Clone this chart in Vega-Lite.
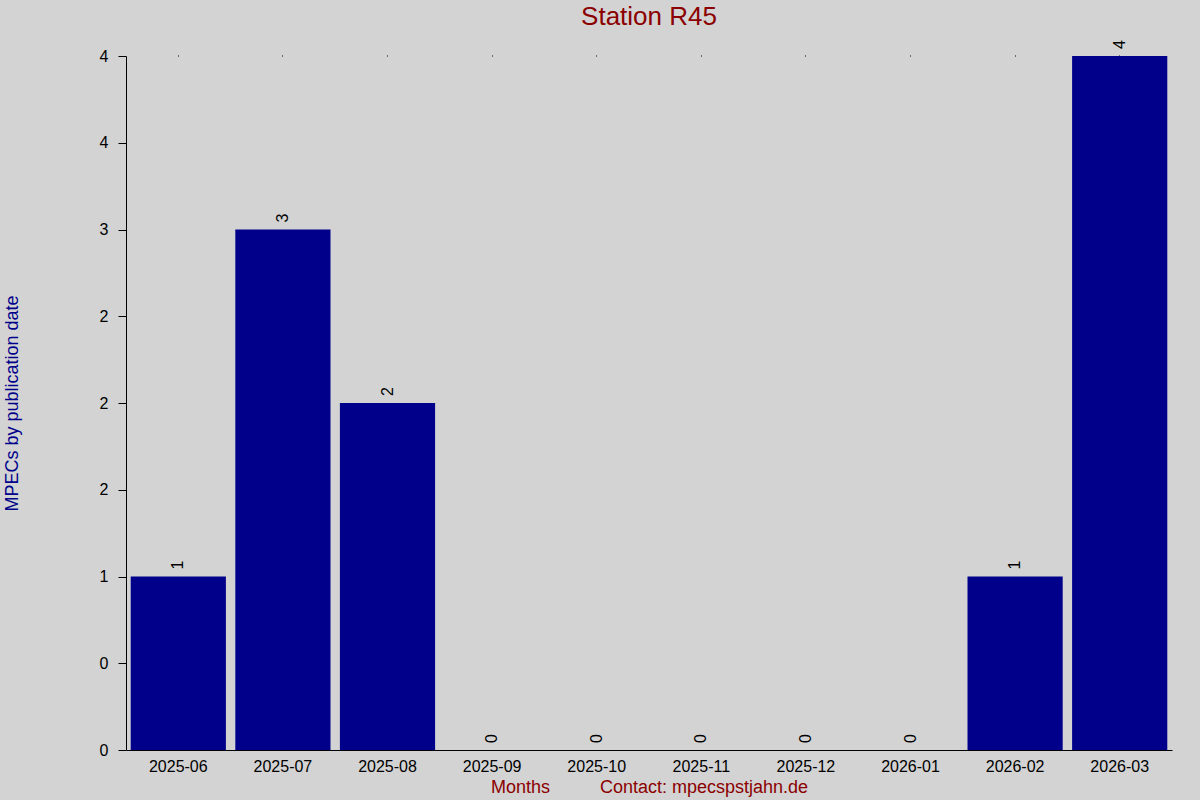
{
  "$schema": "https://vega.github.io/schema/vega-lite/v6.json",
  "width": 1046,
  "height": 694,
  "autosize": "none",
  "padding": {"left": 126, "top": 56, "right": 28, "bottom": 50},
  "background": "#D3D3D3",
  "title": {
    "text": "Station R45",
    "color": "#8B0000",
    "font": "Liberation Sans",
    "fontSize": 26,
    "fontWeight": "normal",
    "anchor": "middle",
    "frame": "group",
    "offset": 10
  },
  "data": {
    "values": [
      {"month": "2025-06", "count": 1},
      {"month": "2025-07", "count": 3},
      {"month": "2025-08", "count": 2},
      {"month": "2025-09", "count": 0},
      {"month": "2025-10", "count": 0},
      {"month": "2025-11", "count": 0},
      {"month": "2025-12", "count": 0},
      {"month": "2026-01", "count": 0},
      {"month": "2026-02", "count": 1},
      {"month": "2026-03", "count": 4}
    ]
  },
  "encoding": {
    "y": {
      "field": "count",
      "type": "quantitative",
      "scale": {"domain": [0, 4], "nice": false},
      "axis": {
        "title": "MPECs by publication date",
        "titleColor": "#00008B",
        "titleFont": "Liberation Sans",
        "titleFontSize": 18,
        "titleFontWeight": "normal",
        "titleBaseline": "alphabetic",
        "titleX": -109,
        "titleY": 347,
        "values": [0, 0.5, 1, 1.5, 2, 2.5, 3, 3.5, 4],
        "labelExpr": "['0','0','1','2','2','2','3','4','4'][datum.value * 2]",
        "labelFont": "Liberation Sans",
        "labelFontSize": 16,
        "labelColor": "black",
        "labelPadding": 10,
        "tickSize": 8,
        "tickColor": "black",
        "domainColor": "black",
        "grid": false
      }
    }
  },
  "layer": [
    {
      "mark": {"type": "bar", "color": "#00008B"},
      "encoding": {
        "x": {
          "field": "month",
          "type": "ordinal",
          "scale": {"paddingInner": 0.09},
          "axis": {
            "orient": "bottom",
            "title": "Months\u00a0\u00a0\u00a0\u00a0\u00a0\u00a0\u00a0\u00a0\u00a0\u00a0Contact: mpecspstjahn.de",
            "titleColor": "#8B0000",
            "titleFont": "Liberation Sans",
            "titleFontSize": 18,
            "titleFontWeight": "normal",
            "titleBaseline": "alphabetic",
            "titleY": 42,
            "labelAngle": 0,
            "labelFont": "Liberation Sans",
            "labelFontSize": 16,
            "labelColor": "black",
            "labelPadding": 8,
            "ticks": false,
            "domainColor": "black"
          }
        }
      }
    },
    {
      "mark": {
        "type": "text",
        "angle": -90,
        "align": "left",
        "baseline": "middle",
        "dx": 7,
        "font": "Liberation Sans",
        "fontSize": 16,
        "color": "black"
      },
      "encoding": {
        "x": {
          "field": "month",
          "type": "ordinal",
          "axis": {
            "orient": "top",
            "title": null,
            "labels": false,
            "domain": false,
            "tickSize": 1,
            "tickColor": "black"
          }
        },
        "text": {"field": "count", "type": "quantitative"}
      }
    }
  ],
  "resolve": {"axis": {"x": "independent"}},
  "config": {"view": {"stroke": null}}
}
